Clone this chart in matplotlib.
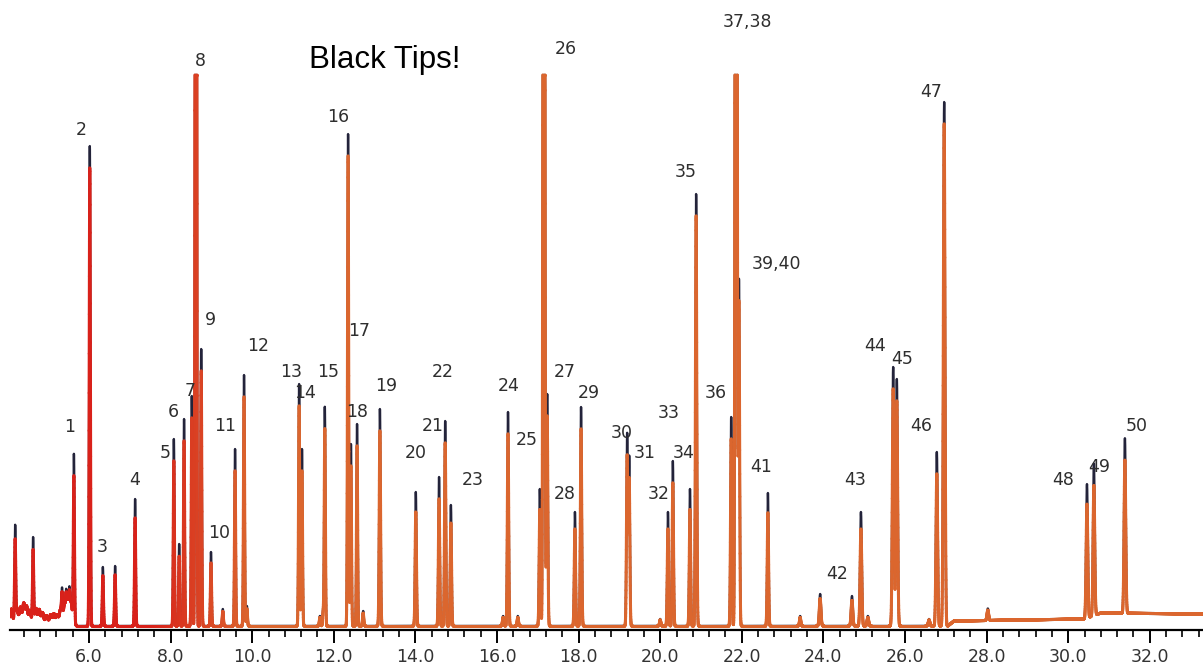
import matplotlib
matplotlib.use("Agg")
import matplotlib.pyplot as plt
from matplotlib import font_manager
from matplotlib.collections import LineCollection
from matplotlib.ticker import MultipleLocator, FormatStrFormatter
import numpy as np

# peak retention times (min), heights (detector units) and widths (sigma, min)
peak_times = [4.19, 4.63, 5.34, 5.44, 5.52,
              5.63, 6.02, 6.34, 6.64, 7.13, 8.08, 8.21, 8.33, 8.52, 8.62, 8.75,
              8.99, 9.28, 9.58, 9.80, 9.87, 11.15, 11.22, 11.66, 11.74, 11.78,
              12.35, 12.42, 12.57, 12.72, 13.13, 14.01, 14.58, 14.73, 14.87,
              16.15, 16.27, 16.51, 17.05, 17.15, 17.23, 17.91, 18.06, 19.19,
              19.24, 20.00, 20.19, 20.31, 20.73, 20.88, 21.74, 21.86, 21.93,
              22.64, 23.43, 23.92, 24.70, 24.92, 25.09, 25.71, 25.80, 26.59,
              26.78, 26.96, 28.03, 30.46, 30.63, 31.39]
peak_heights = [95, 84, 30, 22, 24,
                169, 480, 59, 60, 127, 187, 82, 207, 230, 3000, 277,
                74, 17, 177, 251, 20, 242, 177, 10, 15, 219,
                492, 182, 202, 15, 217, 134, 149, 205, 121,
                10, 214, 10, 137, 3000, 232, 114, 219, 192,
                169, 7, 114, 165, 137, 432, 209, 4000, 347,
                133, 10, 32, 30, 114, 10, 259, 247, 7,
                174, 524, 12, 134, 152, 175]
peak_widths = [0.014] * 30 + [0.016] * 25 + [0.02] * 13

# low, broad bumps of the noisy solvent region
noise_times = [4.10, 4.24, 4.32, 4.40, 4.47, 4.55, 4.70, 4.78, 4.86, 4.96,
               5.06, 5.14, 5.22, 5.30, 5.40, 5.48, 5.56]
noise_heights = [12, 10, 14, 18, 15, 11, 13, 12, 9, 6, 7, 8, 7, 12, 18, 22, 20]

# slow baseline drift
base_times = [4.06, 5.60, 5.70, 27.05, 27.20, 30.40, 30.80, 33.30]
base_values = [6, 5, 1, 1, 6, 8, 14, 13]

# peak labels: text, pixel x, pixel y
label_text = ["1", "2", "3", "4", "5", "6", "7", "8", "9", "10", "11", "12", "13",
              "14", "15", "16", "17", "18", "19", "20", "21", "22", "23", "24",
              "25", "26", "27", "28", "29", "30", "31", "32", "33", "34", "35",
              "36", "37,38", "39,40", "41", "42", "43", "44", "45", "46", "47",
              "48", "49", "50"]
label_x = [70, 81, 102, 135, 165, 173, 190, 200, 210, 219, 225, 258, 291,
           305, 328, 338, 359, 357, 386, 416, 433, 443, 473, 509,
           527, 566, 565, 565, 589, 622, 645, 659, 669, 684, 686,
           716, 747, 776, 761, 837, 855, 875, 902, 921, 931,
           1063, 1099, 1137]
label_y = [427, 130, 547, 480, 453, 412, 391, 61, 320, 533, 426, 346, 372,
           393, 372, 117, 331, 412, 386, 453, 426, 372, 480, 386,
           440, 49, 372, 494, 393, 433, 453, 494, 413, 453, 172,
           393, 22, 264, 467, 574, 480, 346, 359, 426, 92,
           480, 467, 426]

W, H = 1203, 666
PX_PER_MIN = 40.8
X0_PX = 89  # pixel of 6.0 min
CLIP = 552


def px_to_min(px):
    return 6.0 + (px - X0_PX) / PX_PER_MIN


names = {f.name for f in font_manager.fontManager.ttflist}
label_font = "Liberation Sans Narrow" if "Liberation Sans Narrow" in names else "DejaVu Sans"

t = np.arange(px_to_min(10), px_to_min(W) + 0.002, 0.002)
base = np.interp(t, base_times, base_values)
for c, h in zip(noise_times, noise_heights):
    base = base + h * np.exp(-0.5 * ((t - c) / 0.025) ** 2)
dark = base.copy()
color_tr = base.copy()
for c, h, s in zip(peak_times, peak_heights, peak_widths):
    g = np.exp(-0.5 * ((t - c) / s) ** 2)
    dark += h * g
    tip = min(22.0, 0.15 * h)
    color_tr += (h if h >= CLIP else h - tip) * g
dark = np.minimum(dark, CLIP)
color_tr = np.minimum(color_tr, CLIP)

fig = plt.figure(figsize=(W / 100, H / 100), dpi=100)
ax = fig.add_axes([10 / W, 36 / H, 1 - 10 / W, 1 - 36 / H])
ax.set_xlim(px_to_min(10), px_to_min(W))
ax.set_ylim(-3, 630 - 3)

ax.plot(t, dark, color="#23233a", lw=1.7, solid_joinstyle="round")

# red early, orange later
red = np.array([0.85, 0.13, 0.10])
orange = np.array([0.86, 0.40, 0.18])
frac = np.clip((t - 7.5) / 2.5, 0, 1)[:, None]
cols = red * (1 - frac) + orange * frac
pts = np.column_stack([t, color_tr]).reshape(-1, 1, 2)
segs = np.concatenate([pts[:-1], pts[1:]], axis=1)
lc = LineCollection(segs, colors=cols[:-1], linewidths=2.2, capstyle="round")
ax.add_collection(lc)

for txt, lx, ly in zip(label_text, label_x, label_y):
    ax.text(px_to_min(lx), 627 - ly, txt, ha="center", va="center",
            fontsize=12.5, color="#2e2e2e", family=label_font)

ax.text(px_to_min(385), 627 - 60, "Black Tips!", ha="center", va="center",
        fontsize=22.5, color="black", family="Liberation Sans")

for side in ["left", "right", "top"]:
    ax.spines[side].set_visible(False)
ax.spines["bottom"].set_linewidth(1.6)
ax.set_yticks([])
ax.xaxis.set_major_locator(MultipleLocator(2.0))
ax.xaxis.set_minor_locator(MultipleLocator(0.4))
ax.xaxis.set_major_formatter(FormatStrFormatter("%.1f"))
ax.tick_params(axis="x", which="major", length=9, width=1.4, direction="out",
               labelsize=12.5, labelcolor="#333333", pad=4)
ax.tick_params(axis="x", which="minor", length=5, width=1.2, direction="out")
for lab in ax.get_xticklabels():
    lab.set_family(label_font)

fig.savefig("out.png", dpi=100)
